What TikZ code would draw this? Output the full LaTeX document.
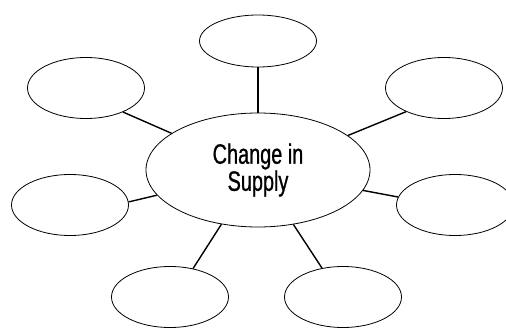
\documentclass[tikz,border=0pt]{standalone}
\usepackage{fontspec}
\usepackage{tikz}
\usetikzlibrary{shapes.geometric}
\newfontfamily\hubfont{Liberation Sans}[FakeStretch=0.71, FakeBold=0.8]

\begin{document}
\begin{tikzpicture}[x=1pt, y=-1pt,
    bubble/.style={draw, ellipse, line width=0.8pt, inner sep=0pt,
      minimum width=117pt, minimum height=61pt},
    hub/.style={draw, ellipse, line width=0.8pt, inner sep=0pt,
      minimum width=224pt, minimum height=114pt, align=center,
      font=\hubfont\fontsize{28}{26}\selectfont},
    spoke/.style={line width=1.4pt}]
    \useasboundingbox (0, 0) rectangle (506, 329);

    \node [hub] (supply) at (258, 170) {Change in\\Supply};

    \node [bubble, minimum height=52pt] (top) at (258, 41) {};
    \node [bubble] (upleft) at (86, 88) {};
    \node [bubble] (upright) at (444, 88) {};
    \node [bubble] (left) at (70, 205) {};
    \node [bubble] (right) at (455, 205) {};
    \node [bubble] (lowleft) at (170, 297) {};
    \node [bubble] (lowright) at (343, 297) {};

    \draw [spoke] (supply.90) -- (top.-90);
    \draw [spoke] (supply.157) -- (upleft.-33);
    \draw [spoke] (supply.21.5) -- (upright.-148);
    \draw [spoke] (supply.194.6) -- (left.3);
    \draw [spoke] (supply.-11.3) -- (right.172);
    \draw [spoke] (supply.236.8) -- (lowleft.51.6);
    \draw [spoke] (supply.-57.5) -- (lowright.126);
  \end{tikzpicture}
\end{document}
